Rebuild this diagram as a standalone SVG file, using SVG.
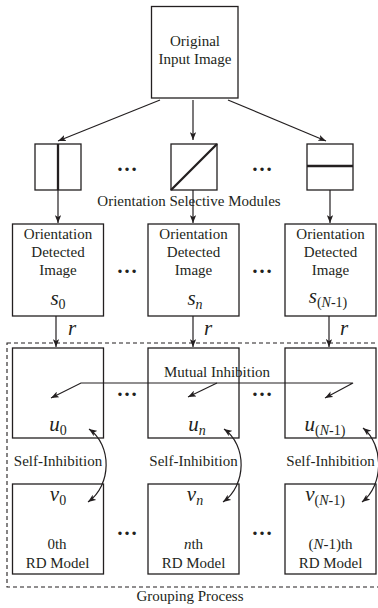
<svg xmlns="http://www.w3.org/2000/svg" width="378" height="608" viewBox="0 0 378 608">
<style>
.box{fill:#fff;stroke:#231f20;stroke-width:1.3}
.thick{stroke:#231f20;stroke-width:2.3;fill:none}
.ln{stroke:#231f20;stroke-width:1.2;fill:none}
.t{font-family:"Liberation Serif","Times New Roman",serif;font-size:15px;fill:#231f20;text-anchor:middle}
.m{font-family:"Liberation Serif","Times New Roman",serif;font-style:italic;font-size:21px;fill:#231f20;text-anchor:middle}
.sub{font-style:normal;font-size:14px}
.i{font-style:italic}
.dots{font-family:"Liberation Serif","Times New Roman",serif;font-weight:bold;font-size:21px;fill:#231f20;text-anchor:middle}
</style>
<defs>
<marker id="ah" viewBox="0 0 10 8" refX="10" refY="4" markerWidth="8" markerHeight="6.4" markerUnits="userSpaceOnUse" orient="auto-start-reverse">
<path d="M0,0 L10,4 L0,8 L2.5,4 z" fill="#231f20"/>
</marker>
</defs>

<rect x="7" y="343" width="380" height="244" fill="none" stroke="#231f20" stroke-width="1.1" stroke-dasharray="4 3"/>

<g id="input">
<rect class="box" x="151.5" y="6.5" width="86.5" height="91.5"/>
<text class="t" x="195" y="46">Original</text>
<text class="t" x="195" y="64">Input Image</text>
</g>

<g id="mod0"><rect class="box" x="35" y="144" width="46" height="46"/><line class="thick" x1="58" y1="144" x2="58" y2="190"/></g>
<g id="modn"><rect class="box" x="171" y="144" width="46" height="46"/><line class="thick" x1="171" y1="190" x2="217" y2="144"/></g>
<g id="modN"><rect class="box" x="307" y="144" width="46" height="46"/><line class="thick" x1="307" y1="166" x2="353" y2="166"/></g>
<text class="dots" x="127" y="171">…</text>
<text class="dots" x="262" y="171">…</text>

<g id="det0"><rect class="box" x="12.5" y="224" width="91" height="92"/>
<text class="t" x="58" y="239">Orientation</text><text class="t" x="58" y="257">Detected</text><text class="t" x="58" y="275">Image</text>
<text class="m" x="58" y="305">s<tspan class="sub" dy="4">0</tspan></text></g>
<g id="detn"><rect class="box" x="148" y="224" width="91" height="92"/>
<text class="t" x="193.5" y="239">Orientation</text><text class="t" x="193.5" y="257">Detected</text><text class="t" x="193.5" y="275">Image</text>
<text class="m" x="195" y="305">s<tspan class="sub i" dy="4">n</tspan></text></g>
<g id="detN"><rect class="box" x="285" y="224" width="91" height="92"/>
<text class="t" x="330.5" y="239">Orientation</text><text class="t" x="330.5" y="257">Detected</text><text class="t" x="330.5" y="275">Image</text>
<text class="m" x="328" y="303">s<tspan class="sub" dy="4">(<tspan class="i">N</tspan>-1)</tspan></text></g>
<text class="dots" x="127" y="273">…</text>
<text class="dots" x="262" y="273">…</text>

<g id="u0"><rect class="box" x="12.5" y="348" width="91" height="90"/>
<text class="m" x="58" y="431">u<tspan class="sub" dy="4">0</tspan></text></g>
<g id="un"><rect class="box" x="148" y="348" width="91" height="90"/>
<text class="m" x="197" y="431">u<tspan class="sub i" dy="4">n</tspan></text></g>
<g id="uN"><rect class="box" x="285" y="348" width="91" height="90"/>
<text class="m" x="325" y="431">u<tspan class="sub" dy="4">(<tspan class="i">N</tspan>-1)</tspan></text></g>
<text class="dots" x="127" y="396">…</text>
<text class="dots" x="262" y="396">…</text>

<g id="v0"><rect class="box" x="12.5" y="484" width="91" height="90"/>
<text class="m" x="58" y="501">v<tspan class="sub" dy="4">0</tspan></text>
<text class="t" x="57" y="549">0th</text><text class="t" x="57.5" y="568">RD Model</text></g>
<g id="vn"><rect class="box" x="148" y="484" width="91" height="90"/>
<text class="m" x="195" y="501">v<tspan class="sub i" dy="4">n</tspan></text>
<text class="t" x="193.5" y="549"><tspan class="i">n</tspan>th</text><text class="t" x="193.5" y="568">RD Model</text></g>
<g id="vN"><rect class="box" x="285" y="484" width="91" height="90"/>
<text class="m" x="325" y="501">v<tspan class="sub" dy="4">(<tspan class="i">N</tspan>-1)</tspan></text>
<text class="t" x="330.5" y="549">(<tspan class="i">N</tspan>-1)th</text><text class="t" x="330.5" y="568">RD Model</text></g>
<text class="dots" x="127" y="535">…</text>
<text class="dots" x="262" y="535">…</text>

<g id="labels">
<text class="t" x="189" y="206">Orientation Selective Modules</text>
<text class="t" x="217" y="377">Mutual Inhibition</text>
<text class="t" x="58" y="466">Self-Inhibition</text>
<text class="t" x="193.5" y="466">Self-Inhibition</text>
<text class="t" x="330.5" y="466">Self-Inhibition</text>
<text class="t" x="190" y="601">Grouping Process</text>
<text class="m" x="72" y="335" font-size="20">r</text>
<text class="m" x="208" y="335" font-size="20">r</text>
<text class="m" x="344" y="335" font-size="20">r</text>
</g>

<g id="connectors">
<line class="ln" x1="160" y1="100" x2="58" y2="141" marker-end="url(#ah)"/>
<line class="ln" x1="193" y1="100" x2="193" y2="140" marker-end="url(#ah)"/>
<line class="ln" x1="228" y1="100" x2="326" y2="141" marker-end="url(#ah)"/>
<line class="ln" x1="58" y1="190" x2="58" y2="223" marker-end="url(#ah)"/>
<line class="ln" x1="193" y1="190" x2="193" y2="223" marker-end="url(#ah)"/>
<line class="ln" x1="330" y1="190" x2="330" y2="223" marker-end="url(#ah)"/>
<line class="ln" x1="56" y1="316" x2="56" y2="347" marker-end="url(#ah)"/>
<line class="ln" x1="193" y1="316" x2="193" y2="347" marker-end="url(#ah)"/>
<line class="ln" x1="329" y1="316" x2="329" y2="347" marker-end="url(#ah)"/>
<polyline class="ln" points="51,398 81,383 353,383 325,398" marker-start="url(#ah)" marker-end="url(#ah)"/>
<line class="ln" x1="217" y1="383" x2="188" y2="397" marker-end="url(#ah)"/>
<path class="ln" d="M89,429 C112,445 112,485 88,502" marker-start="url(#ah)" marker-end="url(#ah)"/>
<path class="ln" d="M224,429 C247,445 247,485 223,502" marker-start="url(#ah)" marker-end="url(#ah)"/>
<path class="ln" d="M363,428 C384,445 384,485 362,502" marker-start="url(#ah)" marker-end="url(#ah)"/>
</g>
</svg>
